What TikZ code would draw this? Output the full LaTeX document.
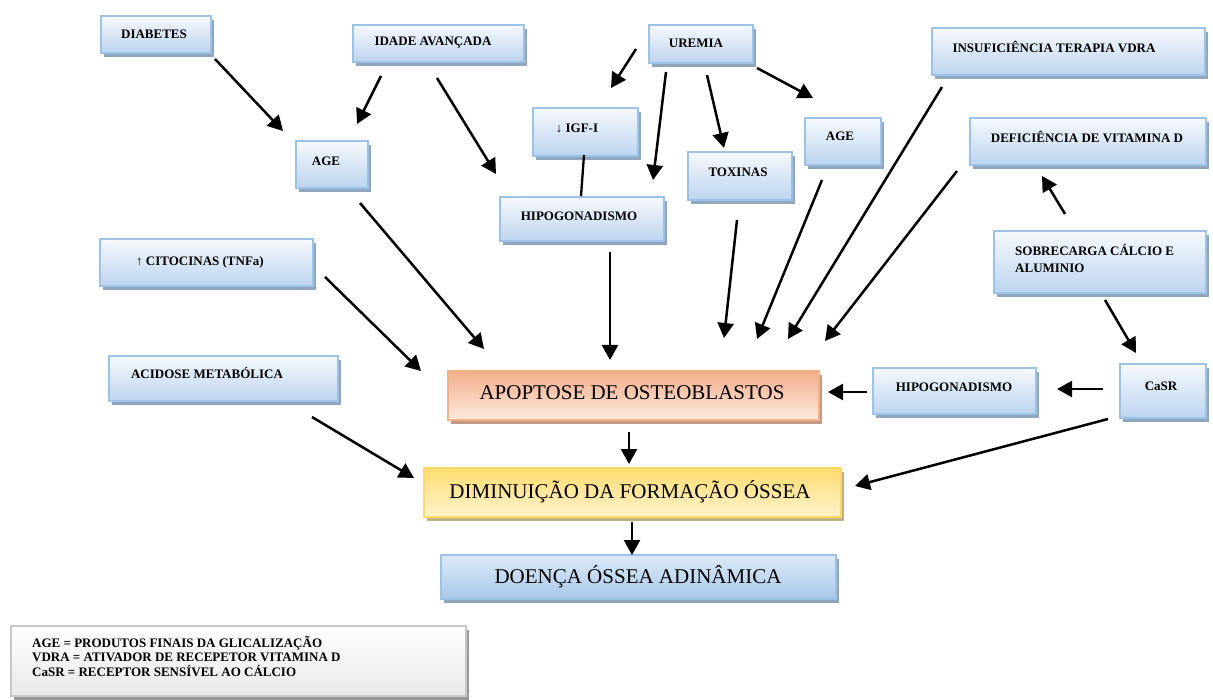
\documentclass[tikz,border=0pt]{standalone}
\usepackage{fontspec}
\setmainfont{Liberation Serif}
\usetikzlibrary{arrows.meta,calc}
\definecolor{bborder}{HTML}{9CC2E5}
\definecolor{btop}{HTML}{F6F9FD}
\definecolor{bbot}{HTML}{BCD4EE}
\definecolor{bshadow}{HTML}{8FA6BE}
\definecolor{oborder}{HTML}{F4B183}
\definecolor{otop}{HTML}{F3AE8A}
\definecolor{obot}{HTML}{FCE9DF}
\definecolor{oshadow}{HTML}{C09A88}
\definecolor{yborder}{HTML}{FFD966}
\definecolor{ytop}{HTML}{FFDC70}
\definecolor{ybot}{HTML}{FFF3CF}
\definecolor{yshadow}{HTML}{C2B07E}
\definecolor{dtop}{HTML}{DCE9F7}
\definecolor{dbot}{HTML}{A9C8EA}
\definecolor{gborder}{HTML}{C8C8C8}
\definecolor{gshadow}{HTML}{9A9A9A}
\tikzset{
  bluebox/.style={draw=bborder, line width=2pt, top color=btop, bottom color=bbot, inner sep=0pt},
  orangebox/.style={draw=oborder, line width=2pt, top color=otop, bottom color=obot, inner sep=0pt},
  yellowbox/.style={draw=yborder, line width=2pt, top color=ytop, bottom color=ybot, inner sep=0pt},
  darkbluebox/.style={draw=bborder, line width=2pt, top color=dtop, bottom color=dbot, inner sep=0pt},
  greybox/.style={draw=gborder, line width=2pt, top color=white, bottom color=gray!18, inner sep=0pt},
  bsh/.style={fill=bshadow}, osh/.style={fill=oshadow}, ysh/.style={fill=yshadow}, gsh/.style={fill=gshadow},
  lbl/.style={font=\fontsize{13}{15}\selectfont\bfseries, inner sep=0pt},
  biglbl/.style={font=\fontsize{21}{24}\selectfont, inner sep=0pt},
  arr/.style={line width=2.5pt, -{Triangle[length=15pt,width=16pt]}},
  plain/.style={line width=2.3pt}
}
\newcommand\bx[7]{%
  \fill[#7] ($(#3,#4)+(4,5)$) rectangle ($(#5,#6)+(4,5)$);
  \node[#1, anchor=north west, minimum width={#5-#3}, minimum height={#6-#4}] (#2) at (#3,#4) {};
}
\begin{document}
\begin{tikzpicture}[x=1pt,y=-1pt]
\useasboundingbox (0,0) rectangle (1213,700);
% boxes
\bx{bluebox}{diab}{100}{15}{210}{52}{bsh}
\bx{bluebox}{ageL}{295}{140}{367}{187}{bsh}
\bx{bluebox}{idade}{352}{24}{523}{61}{bsh}
\bx{bluebox}{igf}{532}{107}{637}{155}{bsh}
\bx{bluebox}{hipoT}{499}{196}{663}{240}{bsh}
\bx{bluebox}{urem}{648}{24}{752}{62}{bsh}
\bx{bluebox}{tox}{687}{151}{791}{199}{bsh}
\bx{bluebox}{ageR}{804}{117}{880}{164}{bsh}
\bx{bluebox}{insuf}{931}{27}{1204}{74}{bsh}
\bx{bluebox}{defic}{969}{117}{1205}{164}{bsh}
\bx{bluebox}{sobre}{993}{230}{1205}{292}{bsh}
\bx{bluebox}{cito}{99}{238}{312}{285}{bsh}
\bx{bluebox}{acid}{108}{355}{337}{400}{bsh}
\bx{orangebox}{apop}{447}{370}{818}{419}{osh}
\bx{yellowbox}{dimin}{423}{467}{840}{516}{ysh}
\bx{darkbluebox}{doenca}{440}{554}{835}{598}{bsh}
\bx{bluebox}{hipoR}{872}{367}{1035}{413}{bsh}
\bx{bluebox}{casr}{1119}{363}{1205}{417}{bsh}
\bx{greybox}{legend}{10}{625}{465}{695}{gsh}
% labels
\node[lbl] (tdiab) at (154,34) {DIABETES};
\node[lbl] (tageL) at (326,161) {AGE};
\node[lbl] (tidade) at (433,43) {IDADE AVANÇADA};
\node[lbl] (tigf) at (577,128) {↓ IGF-I};
\node[lbl] (thipoT) at (579,216) {HIPOGONADISMO};
\node[lbl] (turem) at (696,43) {UREMIA};
\node[lbl] (ttox) at (738,172) {TOXINAS};
\node[lbl] (tageR) at (840,136) {AGE};
\node[lbl] (tinsuf) at (1054,47) {INSUFICIÊNCIA TERAPIA VDRA};
\node[lbl] (tdefic) at (1087,137) {DEFICIÊNCIA DE VITAMINA D};
\node[lbl, anchor=north west, align=left, font=\fontsize{13}{17}\selectfont\bfseries] (tsobre) at (1015,244) {SOBRECARGA CÁLCIO E\\ALUMINIO};
\node[lbl] (tcito) at (200,262) {↑ CITOCINAS (TNFa)};
\node[lbl] (tacid) at (207,373) {ACIDOSE METABÓLICA};
\node[biglbl] (tapop) at (632,393) {APOPTOSE DE OSTEOBLASTOS};
\node[biglbl] (tdimin) at (630,492) {DIMINUIÇÃO DA FORMAÇÃO ÓSSEA};
\node[biglbl] (tdoenca) at (638,577) {DOENÇA ÓSSEA ADINÂMICA};
\node[lbl] (thipoR) at (954,387) {HIPOGONADISMO};
\node[lbl] (tcasr) at (1161,386) {CaSR};
\node[lbl, anchor=north west, align=left, font=\fontsize{13}{14.5}\selectfont\bfseries] (tleg) at (32,636) {AGE = PRODUTOS FINAIS DA GLICALIZAÇÃO\\VDRA = ATIVADOR DE RECEPETOR VITAMINA D\\CaSR = RECEPTOR SENSÍVEL AO CÁLCIO};
% arrow end points
\coordinate (a1s) at (215,59); \coordinate (a1e) at (283,131);
\coordinate (a2s) at (381,76); \coordinate (a2e) at (357,124);
\coordinate (a3s) at (437,78); \coordinate (a3e) at (496,174);
\coordinate (a4s) at (636,49); \coordinate (a4e) at (611,88);
\coordinate (l5s) at (584,155); \coordinate (l5e) at (581,196);
\coordinate (a6s) at (666,72); \coordinate (a6e) at (653,180);
\coordinate (a7s) at (707,75); \coordinate (a7e) at (724,148);
\coordinate (a8s) at (757,68); \coordinate (a8e) at (813,98);
\coordinate (a9s) at (737,220); \coordinate (a9e) at (724,338);
\coordinate (a10s) at (822,180); \coordinate (a10e) at (757,339);
\coordinate (a11s) at (942,87); \coordinate (a11e) at (788,339);
\coordinate (a12s) at (957,171); \coordinate (a12e) at (825,341);
\coordinate (a13s) at (1065,214); \coordinate (a13e) at (1042,176);
\coordinate (a14s) at (1105,300); \coordinate (a14e) at (1136,353);
\coordinate (a15s) at (1103,389); \coordinate (a15e) at (1057,389);
\coordinate (a16s) at (867,392); \coordinate (a16e) at (828,392);
\coordinate (a17s) at (1108,419); \coordinate (a17e) at (855,486);
\coordinate (a18s) at (360,203); \coordinate (a18e) at (484,349);
\coordinate (a19s) at (325,277); \coordinate (a19e) at (421,371);
\coordinate (a20s) at (610,252); \coordinate (a20e) at (610,360);
\coordinate (a21s) at (312,417); \coordinate (a21e) at (414,478);
\coordinate (a22s) at (629,432); \coordinate (a22e) at (629,464);
\coordinate (a23s) at (632,522); \coordinate (a23e) at (632,555);
% connectors
\foreach \i in {1,2,3,4,6,7,8,9,10,11,12,13,14,15,16,17,18,19,20,21,22,23}
  \draw[arr] (a\i s) -- (a\i e);
\draw[plain] (l5s) -- (l5e);
\end{tikzpicture}
\end{document}
